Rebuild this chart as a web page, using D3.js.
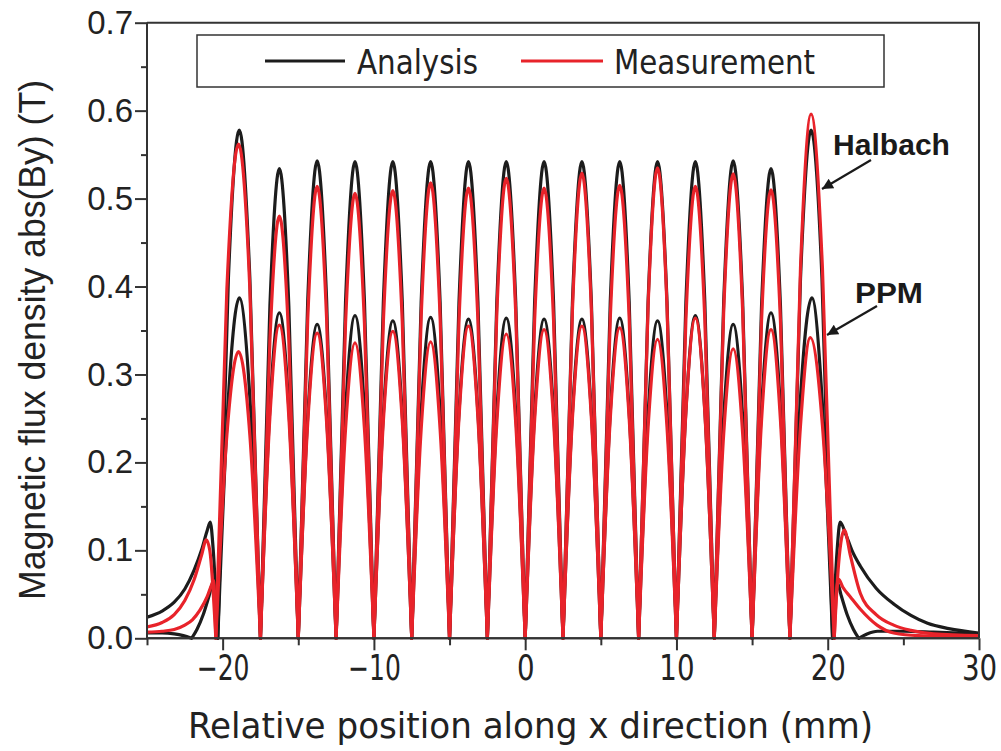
<!DOCTYPE html>
<html>
<head>
<meta charset="utf-8">
<script src="https://cdn.jsdelivr.net/npm/d3@7"></script>
<style>
  body { margin: 0; background: #fff; }
  svg { display: block; }
</style>
</head>
<body>
<svg id="chart" width="1001" height="751"></svg>
<script>
// |By| profiles along x (mm, T) for the Halbach and PPM arrays.
const halbachAnalysis = [
  [-25,0.024],[-24,0.031],[-23.2,0.041],[-22.5,0.056],[-21.9,0.077],[-21.4,0.100],[-21.03,0.122],[-20.82,0.132],[-20.62,0.100],[-20.32,0],
  [-19.62,0.409],[-18.9,0.578],[-18.2,0.409],[-17.5,0],
  [-16.875,0.378],[-16.25,0.534],[-15.625,0.378],[-15,0],
  [-14.375,0.384],[-13.75,0.543],[-13.125,0.384],[-12.5,0],
  [-11.875,0.383],[-11.25,0.542],[-10.625,0.383],[-10,0],
  [-9.375,0.383],[-8.75,0.542],[-8.125,0.383],[-7.5,0],
  [-6.875,0.383],[-6.25,0.542],[-5.625,0.383],[-5,0],
  [-4.375,0.383],[-3.75,0.542],[-3.125,0.383],[-2.5,0],
  [-1.875,0.383],[-1.25,0.542],[-0.625,0.383],[0,0],
  [0.625,0.383],[1.25,0.542],[1.875,0.383],[2.5,0],
  [3.125,0.383],[3.75,0.542],[4.375,0.383],[5,0],
  [5.625,0.383],[6.25,0.542],[6.875,0.383],[7.5,0],
  [8.125,0.383],[8.75,0.542],[9.375,0.383],[10,0],
  [10.625,0.383],[11.25,0.542],[11.875,0.383],[12.5,0],
  [13.125,0.384],[13.75,0.543],[14.375,0.384],[15,0],
  [15.625,0.378],[16.25,0.534],[16.875,0.378],[17.5,0],
  [18.2,0.409],[18.9,0.578],[19.62,0.409],[20.32,0],
  [20.62,0.100],[20.82,0.132],[21.2,0.118],[21.6,0.100],[22.16,0.082],[23.2,0.057],[24.36,0.039],[25.5,0.026],[26.6,0.017],[28,0.011],[30,0.006]
];

const halbachMeasurement = [
  [-25,0.013],[-24,0.018],[-23.2,0.027],[-22.5,0.043],[-21.9,0.066],[-21.4,0.094],[-21.08,0.112],[-20.85,0.100],[-20.45,0],
  [-19.72,0.397],[-18.95,0.562],[-18.2,0.397],[-17.5,0],
  [-16.875,0.339],[-16.25,0.480],[-15.625,0.339],[-15,0],
  [-14.375,0.363],[-13.75,0.514],[-13.125,0.363],[-12.5,0],
  [-11.875,0.358],[-11.25,0.506],[-10.625,0.358],[-10,0],
  [-9.375,0.360],[-8.75,0.509],[-8.125,0.360],[-7.5,0],
  [-6.875,0.366],[-6.25,0.518],[-5.625,0.366],[-5,0],
  [-4.375,0.362],[-3.75,0.512],[-3.125,0.362],[-2.5,0],
  [-1.875,0.370],[-1.25,0.523],[-0.625,0.370],[0,0],
  [0.625,0.362],[1.25,0.512],[1.875,0.362],[2.5,0],
  [3.125,0.374],[3.75,0.529],[4.375,0.374],[5,0],
  [5.625,0.364],[6.25,0.515],[6.875,0.364],[7.5,0],
  [8.125,0.378],[8.75,0.535],[9.375,0.378],[10,0],
  [10.625,0.363],[11.25,0.514],[11.875,0.363],[12.5,0],
  [13.125,0.373],[13.75,0.528],[14.375,0.373],[15,0],
  [15.625,0.361],[16.25,0.510],[16.875,0.361],[17.5,0],
  [18.2,0.421],[18.9,0.596],[19.65,0.421],[20.43,0],
  [20.72,0.085],[21.1,0.123],[21.5,0.094],[22.16,0.051],[23.2,0.027],[24.36,0.015],[25.5,0.009],[27,0.005],[30,0.003]
];

const ppmAnalysis = [
  [-25,0.006],[-24,0.006],[-23.2,0.005],[-22.6,0.003],[-22.05,0],
  [-21.7,0.010],[-21.28,0.027],[-20.9,0.048],[-20.62,0.064],[-20.45,0.050],[-20.32,0],
  [-19.62,0.274],[-18.9,0.387],[-18.2,0.274],[-17.5,0],
  [-16.875,0.262],[-16.25,0.370],[-15.625,0.262],[-15,0],
  [-14.375,0.252],[-13.75,0.357],[-13.125,0.252],[-12.5,0],
  [-11.875,0.259],[-11.25,0.367],[-10.625,0.259],[-10,0],
  [-9.375,0.255],[-8.75,0.361],[-8.125,0.255],[-7.5,0],
  [-6.875,0.258],[-6.25,0.365],[-5.625,0.258],[-5,0],
  [-4.375,0.257],[-3.75,0.363],[-3.125,0.257],[-2.5,0],
  [-1.875,0.257],[-1.25,0.364],[-0.625,0.257],[0,0],
  [0.625,0.257],[1.25,0.363],[1.875,0.257],[2.5,0],
  [3.125,0.257],[3.75,0.363],[4.375,0.257],[5,0],
  [5.625,0.257],[6.25,0.364],[6.875,0.257],[7.5,0],
  [8.125,0.255],[8.75,0.361],[9.375,0.255],[10,0],
  [10.625,0.259],[11.25,0.367],[11.875,0.259],[12.5,0],
  [13.125,0.252],[13.75,0.357],[14.375,0.252],[15,0],
  [15.625,0.262],[16.25,0.370],[16.875,0.262],[17.5,0],
  [18.2,0.274],[18.95,0.387],[19.62,0.274],[20.32,0],
  [20.45,0.050],[20.62,0.064],[20.9,0.048],[21.28,0.027],[21.7,0.010],[22.05,0],
  [22.6,0.005],[23.3,0.008],[25,0.008],[27,0.007],[30,0.005]
];

const ppmMeasurement = [
  [-25,0.007],[-24,0.008],[-23.2,0.010],[-22.5,0.015],[-22.0,0.021],[-21.5,0.032],[-21.03,0.047],[-20.75,0.060],[-20.6,0.066],[-20.45,0],
  [-19.72,0.231],[-18.95,0.326],[-18.2,0.231],[-17.5,0],
  [-16.875,0.252],[-16.25,0.356],[-15.625,0.252],[-15,0],
  [-14.375,0.245],[-13.75,0.347],[-13.125,0.245],[-12.5,0],
  [-11.875,0.238],[-11.25,0.336],[-10.625,0.238],[-10,0],
  [-9.375,0.247],[-8.75,0.349],[-8.125,0.247],[-7.5,0],
  [-6.875,0.238],[-6.25,0.337],[-5.625,0.238],[-5,0],
  [-4.375,0.251],[-3.75,0.355],[-3.125,0.251],[-2.5,0],
  [-1.875,0.245],[-1.25,0.346],[-0.625,0.245],[0,0],
  [0.625,0.248],[1.25,0.351],[1.875,0.248],[2.5,0],
  [3.125,0.251],[3.75,0.355],[4.375,0.251],[5,0],
  [5.625,0.250],[6.25,0.353],[6.875,0.250],[7.5,0],
  [8.125,0.240],[8.75,0.340],[9.375,0.240],[10,0],
  [10.625,0.257],[11.25,0.364],[11.875,0.257],[12.5,0],
  [13.125,0.233],[13.75,0.329],[14.375,0.233],[15,0],
  [15.625,0.248],[16.25,0.351],[16.875,0.248],[17.5,0],
  [18.2,0.242],[18.85,0.342],[19.65,0.242],[20.43,0],
  [20.55,0.045],[20.72,0.067],[21.0,0.058],[21.5,0.047],[22.16,0.033],[23.26,0.015],[24.36,0.006],[26,0.003],[30,0.002]
];

const xMajorTicks = [-20, -10, 0, 10, 20, 30];
const xMinorTicks = [-25, -15, -5, 5, 15, 25];
const yMajorTicks = [0, 0.1, 0.2, 0.3, 0.4, 0.5, 0.6, 0.7];
const yMinorTicks = [0.05, 0.15, 0.25, 0.35, 0.45, 0.55, 0.65];
const legendLabels = ["Analysis", "Measurement"];
const arrayLabels = ["Halbach", "PPM"];

const BLACK = "#1c1c1c";
const RED = "#e8232a";
const AXIS = "#333";
const narrowFont = "'Liberation Sans Narrow', 'DejaVu Sans Condensed', 'Liberation Sans', sans-serif";
const sansFont = "'Liberation Sans', Arial, sans-serif";

const svg = d3.select("#chart");
const x = d3.scaleLinear().domain([-25, 30]).range([147, 979]);
const y = d3.scaleLinear().domain([0, 0.7]).range([638.3, 22.7]);

svg.append("defs").append("clipPath").attr("id", "plot-clip")
  .append("rect")
  .attr("x", x(-25)).attr("y", y(0.7))
  .attr("width", x(30) - x(-25)).attr("height", y(0) - y(0.7) + 2);

// Split a profile at its zero points so every null of |By| stays a sharp cusp.
function splitAtZeros(pts) {
  const segs = [];
  let cur = [pts[0]];
  for (let i = 1; i < pts.length; i++) {
    cur.push(pts[i]);
    if (pts[i][1] === 0 && i < pts.length - 1) {
      segs.push(cur);
      cur = [pts[i]];
    }
  }
  segs.push(cur);
  return segs;
}

const line = d3.line()
  .x(d => x(d[0]))
  .y(d => y(d[1]))
  .curve(d3.curveMonotoneX);

const curves = svg.append("g").attr("clip-path", "url(#plot-clip)");
function drawProfile(pts, color) {
  const d = splitAtZeros(pts).map(s => line(s)).join("");
  curves.append("path")
    .attr("d", d)
    .attr("fill", "none")
    .attr("stroke", color)
    .attr("stroke-width", 3.2)
    .attr("stroke-linejoin", "round")
    .attr("stroke-linecap", "round");
}
drawProfile(halbachAnalysis, BLACK);
drawProfile(ppmAnalysis, BLACK);
drawProfile(halbachMeasurement, RED);
drawProfile(ppmMeasurement, RED);

// Axes
const gx = svg.append("g").attr("transform", `translate(0,${y(0)})`);
gx.call(d3.axisBottom(x).tickValues(xMajorTicks).tickSize(12).tickPadding(5)
  .tickFormat(d => d < 0 ? "\u2212" + Math.abs(d) : String(d)));
gx.append("g").call(d3.axisBottom(x).tickValues(xMinorTicks).tickSize(7).tickFormat(""));
gx.selectAll(".domain").attr("stroke", AXIS).attr("stroke-width", 2).attr("d", `M${x(-25)},0H${x(30)}`);
gx.selectAll(".tick line").attr("stroke", AXIS).attr("stroke-width", 2);
gx.selectAll(".tick text")
  .attr("fill", "#222")
  .style("font-family", narrowFont)
  .style("font-size", "35px")
  .each(function() {
    const t = d3.select(this);
    t.attr("textLength", t.text().length * 17.6).attr("lengthAdjust", "spacingAndGlyphs");
  });

const gy = svg.append("g").attr("transform", `translate(${x(-25)},0)`);
gy.call(d3.axisLeft(y).tickValues(yMajorTicks).tickSize(12).tickPadding(2)
  .tickFormat(d3.format(".1f")));
gy.append("g").call(d3.axisLeft(y).tickValues(yMinorTicks).tickSize(6).tickFormat(""));
gy.selectAll(".domain").attr("stroke", AXIS).attr("stroke-width", 2).attr("d", `M0,${y(0)}V${y(0.7)}`);
gy.selectAll(".tick line").attr("stroke", AXIS).attr("stroke-width", 2);
gy.selectAll(".tick text")
  .attr("fill", "#222")
  .style("font-family", sansFont)
  .style("font-size", "33px");

// Frame top and right
svg.append("path")
  .attr("d", `M${x(-25)},${y(0.7)}H${x(30)}V${y(0)}`)
  .attr("fill", "none").attr("stroke", AXIS).attr("stroke-width", 2);

// Axis titles
svg.append("text")
  .attr("x", 188).attr("y", 738)
  .attr("textLength", 685).attr("lengthAdjust", "spacingAndGlyphs")
  .style("font-family", narrowFont).style("font-size", "35px").attr("fill", "#222")
  .text("Relative position along x direction (mm)");

svg.append("text")
  .attr("transform", "translate(45,340) rotate(-90)")
  .attr("text-anchor", "middle")
  .attr("textLength", 520).attr("lengthAdjust", "spacingAndGlyphs")
  .style("font-family", sansFont).style("font-size", "37px").attr("fill", "#222")
  .text("Magnetic flux density abs(By) (T)");

// Legend
const lg = svg.append("g");
lg.append("rect").attr("x", 197).attr("y", 35).attr("width", 687).attr("height", 52)
  .attr("fill", "#fff").attr("stroke", AXIS).attr("stroke-width", 1.5);
const legendItems = [
  { label: legendLabels[0], color: BLACK, x0: 265, x1: 345, tx: 357, tw: 121 },
  { label: legendLabels[1], color: RED, x0: 521, x1: 603, tx: 614, tw: 201 }
];
legendItems.forEach(it => {
  lg.append("line").attr("x1", it.x0).attr("x2", it.x1).attr("y1", 61).attr("y2", 61)
    .attr("stroke", it.color).attr("stroke-width", 3);
  lg.append("text").attr("x", it.tx).attr("y", 74)
    .attr("textLength", it.tw).attr("lengthAdjust", "spacingAndGlyphs")
    .style("font-family", narrowFont).style("font-size", "33px").attr("fill", "#222")
    .text(it.label);
});

// Array annotations with arrows
const defs = svg.select("defs");
defs.append("marker").attr("id", "arrowhead")
  .attr("viewBox", "0 0 10 10").attr("refX", 10).attr("refY", 5)
  .attr("markerWidth", 6).attr("markerHeight", 5).attr("markerUnits", "strokeWidth")
  .attr("orient", "auto")
  .append("path").attr("d", "M0,0L10,5L0,10Z").attr("fill", "#1a1a1a");

const notes = [
  { label: arrayLabels[0], tx: 833, ty: 155, tw: 117, from: [871, 160], to: [822, 189] },
  { label: arrayLabels[1], tx: 855, ty: 303, tw: 68, from: [877, 306], to: [827, 335] }
];
notes.forEach(n => {
  svg.append("text").attr("x", n.tx).attr("y", n.ty)
    .attr("textLength", n.tw).attr("lengthAdjust", "spacingAndGlyphs")
    .style("font-family", sansFont).style("font-size", "30px").style("font-weight", "bold")
    .attr("fill", "#1a1a1a").text(n.label);
  svg.append("line").attr("x1", n.from[0]).attr("y1", n.from[1])
    .attr("x2", n.to[0]).attr("y2", n.to[1])
    .attr("stroke", "#1a1a1a").attr("stroke-width", 2.2)
    .attr("marker-end", "url(#arrowhead)");
});
</script>
</body>
</html>
